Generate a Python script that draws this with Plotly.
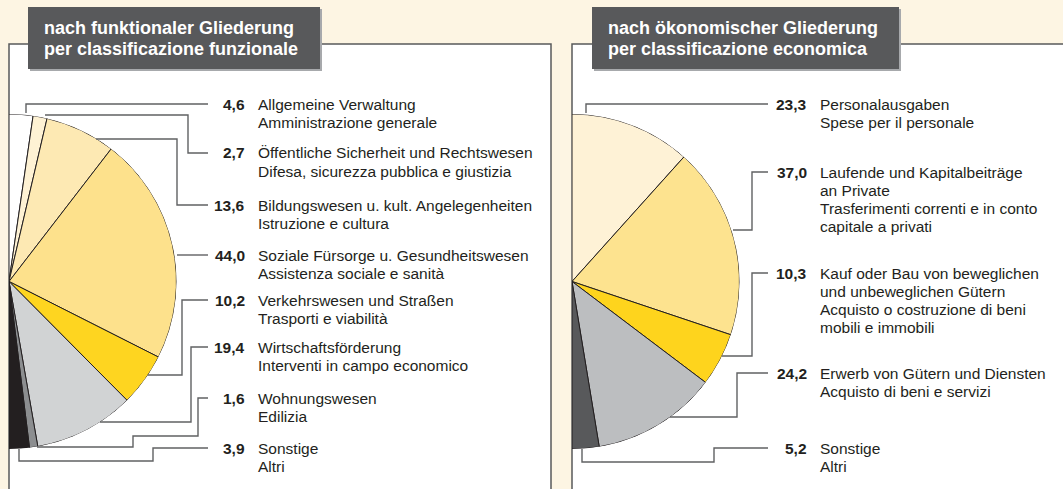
import plotly.graph_objects as go

W, H = 1063, 489

# ─── Data ─────────────────────────────────────────────────────────────────────

func_values = [4.6, 2.7, 13.6, 44.0, 10.2, 19.4, 1.6, 3.9]
func_labels = [
    ["Allgemeine Verwaltung", "Amministrazione generale"],
    ["Öffentliche Sicherheit und Rechtswesen", "Difesa, sicurezza pubblica e giustizia"],
    ["Bildungswesen u. kult. Angelegenheiten", "Istruzione e cultura"],
    ["Soziale Fürsorge u. Gesundheitswesen", "Assistenza sociale e sanità"],
    ["Verkehrswesen und Straßen", "Trasporti e viabilità"],
    ["Wirtschaftsförderung", "Interventi in campo economico"],
    ["Wohnungswesen", "Edilizia"],
    ["Sonstige", "Altri"],
]
func_colors = ["#FFFFFF", "#FEF2D4", "#FDE9B3", "#FDE18C",
               "#FED520", "#D1D3D4", "#8C8E90", "#231F20"]

econ_values = [23.3, 37.0, 10.3, 24.2, 5.2]
econ_labels = [
    ["Personalausgaben", "Spese per il personale"],
    ["Laufende und Kapitalbeiträge", "an Private",
     "Trasferimenti correnti e in conto", "capitale a privati"],
    ["Kauf oder Bau von beweglichen", "und unbeweglichen Gütern",
     "Acquisto o costruzione di beni", "mobili e immobili"],
    ["Erwerb von Gütern und Diensten", "Acquisto di beni e servizi"],
    ["Sonstige", "Altri"],
]
econ_colors = ["#FEF2D6", "#FDE38F", "#FED41D", "#BCBEC0", "#58595B"]

titles = [["nach funktionaler Gliederung", "per classificazione funzionale"],
          ["nach ökonomischer Gliederung", "per classificazione economica"]]

# ─── Layout geometry (pixels) ─────────────────────────────────────────────────

BG = "#FDF5E3"
INK = "#231F20"
LINE = "#58595B"
FONT = "Liberation Sans, Arial, sans-serif"

func_label_y = [104, 153, 205, 255, 300, 347, 398, 448]
econ_label_y = [104, 172, 273, 373, 448]

func_leaders = [
    [(26, 113), (26, 104), (208, 104)],
    [(45, 115), (188, 115), (188, 153), (208, 153)],
    [(96, 139), (177, 139), (177, 205), (208, 205)],
    [(177, 255), (208, 255)],
    [(148, 375), (182, 375), (182, 300), (208, 300)],
    [(100, 422), (191, 422), (191, 347), (208, 347)],
    [(37, 447), (133, 447), (133, 436), (198, 436), (198, 398), (208, 398)],
    [(19, 449), (19, 461), (153, 461), (153, 448), (208, 448)],
]
econ_leaders = [
    [(586, 113), (586, 104), (768, 104)],
    [(733, 230), (752, 230), (752, 172), (768, 172)],
    [(722, 356), (752, 356), (752, 273), (768, 273)],
    [(670, 417), (737, 417), (737, 373), (768, 373)],
    [(582, 449), (582, 462), (714, 462), (714, 448), (768, 448)],
]


def px(x):
    return x / W


def py(y):
    return 1 - y / H


def half_pie(values, colors, name):
    thetas, widths, cum = [], [], 0.0
    total = sum(values)
    for v in values:
        thetas.append((cum + v / 2) / total * 180)
        widths.append(v / total * 180)
        cum += v
    return go.Barpolar(r=[1] * len(values), theta=thetas, width=widths,
                       marker=dict(color=colors, line=dict(color=INK, width=1)),
                       subplot=name, hoverinfo="skip", showlegend=False)


fig = go.Figure()
fig.add_trace(half_pie(func_values, func_colors, "polar"))
fig.add_trace(half_pie(econ_values, econ_colors, "polar2"))

R, CY = 167.5, 281.5
polar_common = dict(
    sector=[-90, 90], bgcolor="rgba(0,0,0,0)", hole=0,
    radialaxis=dict(visible=False, range=[0, 1]),
    angularaxis=dict(visible=False, rotation=90, direction="clockwise"),
)

shapes, annotations = [], []

# panels
for x0, x1 in [(9, 551), (572, 1070)]:
    shapes.append(dict(type="rect", xref="paper", yref="paper", layer="below",
                       x0=px(x0), x1=px(x1), y0=py(44), y1=py(500),
                       fillcolor="white", line=dict(color=LINE, width=1.5)))

# leader lines
for path in func_leaders + econ_leaders:
    d = "M " + " L ".join(f"{px(x)},{py(y)}" for x, y in path)
    shapes.append(dict(type="path", xref="paper", yref="paper", path=d,
                       line=dict(color="#606163", width=1.4)))

# title boxes
for (x0, x1), lines in zip([(28, 320), (592, 899)], titles):
    shapes.append(dict(type="rect", xref="paper", yref="paper",
                       x0=px(x0 + 2), x1=px(x1 + 2), y0=py(9), y1=py(71),
                       fillcolor="#A7A9AC", line_width=0))
    shapes.append(dict(type="rect", xref="paper", yref="paper",
                       x0=px(x0), x1=px(x1), y0=py(7), y1=py(69),
                       fillcolor=LINE, line_width=0))
    for k, t in enumerate(lines):
        annotations.append(dict(xref="paper", yref="paper", x=px(x0 + 14),
                                y=py(28 + 21 * k), text=t, showarrow=False,
                                xanchor="left", yanchor="middle",
                                font=dict(family=FONT, size=18, color="white",
                                          weight="bold")))


def add_labels(values, labels, ys, xv, xt):
    for v, lines, y0 in zip(values, labels, ys):
        annotations.append(dict(xref="paper", yref="paper", x=px(xv), y=py(y0),
                                text=f"{v:.1f}".replace(".", ","),
                                showarrow=False, xanchor="right", yanchor="middle",
                                font=dict(family=FONT, size=15.5, color=INK,
                                          weight="bold")))
        for k, t in enumerate(lines):
            annotations.append(dict(xref="paper", yref="paper", x=px(xt),
                                    y=py(y0 + 18 * k), text=t, showarrow=False,
                                    xanchor="left", yanchor="middle",
                                    font=dict(family=FONT, size=15.5, color=INK)))


add_labels(func_values, func_labels, func_label_y, 247, 256)
add_labels(econ_values, econ_labels, econ_label_y, 809, 818)

fig.update_layout(
    width=W, height=H, margin=dict(l=0, r=0, t=0, b=0),
    paper_bgcolor=BG, plot_bgcolor=BG,
    polar=dict(domain=dict(x=[px(9), px(9 + R)], y=[py(CY + R), py(CY - R)]),
               **polar_common),
    polar2=dict(domain=dict(x=[px(572), px(572 + R)], y=[py(CY + R), py(CY - R)]),
                **polar_common),
    shapes=shapes, annotations=annotations,
)

# the page body has a default 8px margin; drop it so the figure sits at 0,0
fig.write_html("out.html", config={"displayModeBar": False},
               post_script="document.body.style.margin='0';")
